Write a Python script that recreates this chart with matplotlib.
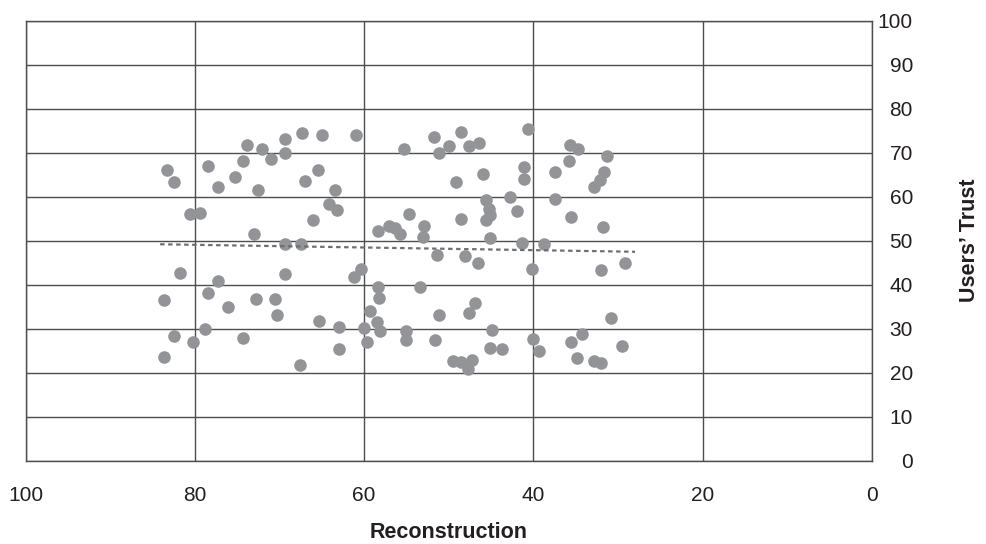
import matplotlib
matplotlib.use("Agg")
import matplotlib.pyplot as plt

plt.rcParams["font.family"] = ["Liberation Sans", "DejaVu Sans"]

# Reconstruction score (x) and users' trust (y)
RECON = [
    83.3, 82.5, 78.4, 77.3, 75.3, 74.3, 73.8, 72.1, 71.0, 69.4,
    69.4, 67.3, 65.0, 61.0, 72.5, 67.0, 65.4, 63.4, 64.1, 63.2,
    66.0, 80.6, 79.4, 73.0, 69.3, 67.5, 58.4, 81.7, 77.3, 69.3,
    61.2, 60.4, 83.6, 78.5, 76.1, 72.8, 70.5, 70.3, 58.4, 58.2,
    82.5, 80.2, 78.8, 74.3, 65.3, 63.0, 59.3, 60.0, 58.5, 58.1,
    59.7, 63.0, 83.6, 67.6,
    55.3, 51.7, 51.1, 50.0, 48.5, 47.6, 46.4, 40.6, 35.7, 34.7,
    31.3, 35.8, 31.7, 32.1, 32.9, 37.4, 41.1, 41.1, 46.0, 49.1,
    45.6, 42.8, 37.4, 41.9, 45.3, 45.1, 45.6, 48.5, 54.7, 52.9,
    53.1, 57.1, 56.3, 55.8, 45.1, 41.4, 38.8, 35.6, 31.8, 51.4,
    48.1, 46.5, 40.2, 32.0, 29.2, 53.4, 46.9, 47.6, 51.1, 30.8,
    55.0, 55.0, 51.6, 44.9, 45.1, 43.7, 40.1, 39.4, 35.6, 34.3,
    34.8, 32.9, 32.0, 29.5, 49.5, 48.6, 47.3, 47.7,
]
TRUST = [
    66.1, 63.4, 67.0, 62.3, 64.5, 68.1, 71.7, 70.8, 68.6, 73.0,
    70.0, 74.5, 74.0, 74.0, 61.6, 63.5, 66.1, 61.6, 58.4, 57.0,
    54.8, 56.0, 56.4, 51.6, 49.3, 49.3, 52.2, 42.7, 40.9, 42.5,
    41.8, 43.5, 36.5, 38.1, 35.0, 36.7, 36.7, 33.1, 39.6, 37.1,
    28.4, 27.1, 30.0, 28.0, 31.7, 30.4, 34.1, 30.1, 31.6, 29.6,
    26.9, 25.5, 23.7, 21.7,
    70.8, 73.6, 70.0, 71.4, 74.8, 71.6, 72.3, 75.3, 71.7, 70.8,
    69.2, 68.0, 65.5, 63.8, 62.3, 65.5, 66.7, 64.0, 65.1, 63.3,
    59.3, 59.9, 59.5, 56.8, 57.2, 55.8, 54.7, 54.9, 56.0, 53.3,
    50.9, 53.3, 52.8, 51.5, 50.6, 49.6, 49.3, 55.3, 53.1, 46.8,
    46.6, 45.0, 43.5, 43.4, 45.0, 39.6, 35.9, 33.5, 33.1, 32.5,
    29.6, 27.5, 27.5, 29.7, 25.7, 25.5, 27.8, 25.0, 27.1, 28.9,
    23.3, 22.7, 22.3, 26.1, 22.8, 22.5, 22.9, 20.8,
]

# linear trend line end points
TREND_X = [84.1, 28.0]
TREND_Y = [49.2, 47.5]

X_TICKS = [100, 80, 60, 40, 20, 0]
Y_TICKS = [0, 10, 20, 30, 40, 50, 60, 70, 80, 90, 100]

fig = plt.figure(figsize=(9.86, 5.44), dpi=100)
ax = fig.add_axes([0.0259, 0.1526, 0.8585, 0.8097])

ax.scatter(RECON, TRUST, s=82, color="#929497", linewidths=0, zorder=3)
ax.plot(TREND_X, TREND_Y, color="#6d6e70", linewidth=1.6,
        dashes=(2.0, 1.6), zorder=4)

ax.set_xlim(100, 0)
ax.set_ylim(0, 100)
ax.set_xticks(X_TICKS)
ax.set_yticks(Y_TICKS)

ax.yaxis.tick_right()
ax.yaxis.set_label_position("right")
ax.tick_params(axis="both", length=0, labelsize=15, colors="#231f20")
ax.tick_params(axis="x", pad=18)
ax.tick_params(axis="y", pad=29.5)
for lbl in ax.get_yticklabels():
    lbl.set_horizontalalignment("right")

ax.grid(True, color="#4d4d4f", linewidth=1.0, zorder=1)
ax.set_axisbelow(True)
for sp in ax.spines.values():
    sp.set_color("#4d4d4f")
    sp.set_linewidth(1.0)

ax.set_xlabel("Reconstruction", fontsize=15.5, fontweight="bold",
              color="#231f20", labelpad=12)
ax.set_ylabel("Users\u2019 Trust", fontsize=15.5, fontweight="bold",
              color="#231f20", rotation=90, labelpad=33)

fig.savefig("out.png", dpi=100)
